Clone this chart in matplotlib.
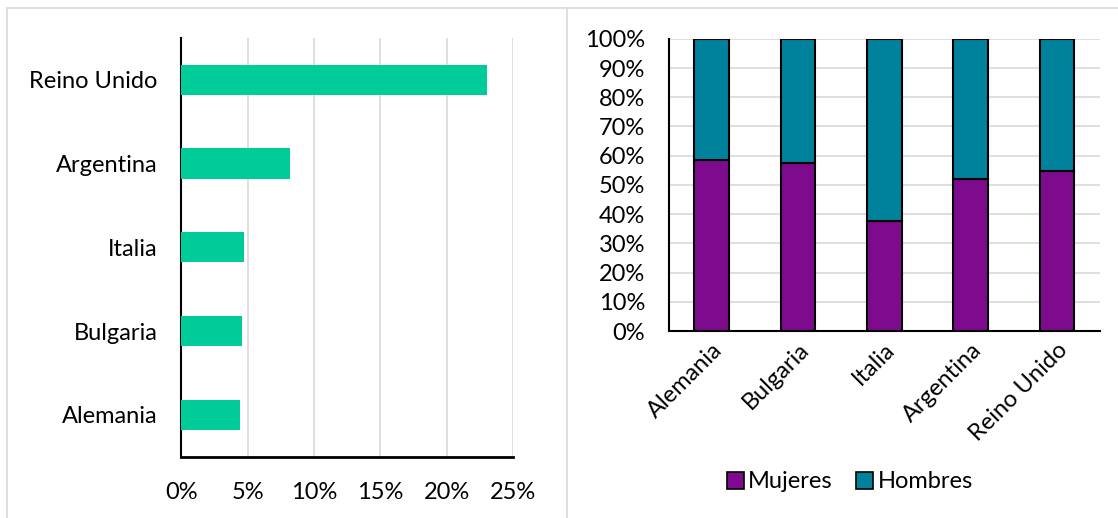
import matplotlib.pyplot as plt
from matplotlib.lines import Line2D
from matplotlib.patches import Patch
from matplotlib.ticker import PercentFormatter

plt.rcParams['font.family'] = ['Lato', 'DejaVu Sans']
plt.rcParams['font.size'] = 17

# datos
paises_izq = ["Alemania", "Bulgaria", "Italia", "Argentina", "Reino Unido"]
porcentaje = [4.45, 4.6, 4.7, 8.2, 23.0]

paises_der = ["Alemania", "Bulgaria", "Italia", "Argentina", "Reino Unido"]
mujeres = [58.6, 57.4, 37.5, 52.1, 54.8]
hombres = [100 - m for m in mujeres]

verde = "#00CC99"
morado = "#7E0A8E"
azul = "#00819C"
gris = "#D9D9D9"

fig = plt.figure(figsize=(11.18, 5.18), dpi=100)

# ---- panel izquierdo ----
ax1 = fig.add_axes([0.162, 0.118, 0.297, 0.809])
ax1.barh(range(len(paises_izq)), porcentaje, height=0.36, color=verde, zorder=3)
ax1.set_xlim(0, 25)
ax1.set_ylim(-0.5, 4.5)
ax1.set_xticks([0, 5, 10, 15, 20, 25])
ax1.xaxis.set_major_formatter(PercentFormatter(decimals=0))
ax1.set_yticks(range(len(paises_izq)))
ax1.set_yticklabels(paises_izq)
ax1.grid(axis='x', color=gris, linewidth=1.2, zorder=0)
for s in ['top', 'right']:
    ax1.spines[s].set_visible(False)
ax1.spines['left'].set_linewidth(1.5)
ax1.spines['bottom'].set_linewidth(2)
ax1.tick_params(length=0)
ax1.tick_params(axis='y', pad=17)
ax1.tick_params(axis='x', pad=18)

# ---- panel derecho ----
ax2 = fig.add_axes([0.598, 0.361, 0.386, 0.564])
x = range(len(paises_der))
ax2.bar(x, mujeres, width=0.4, color=morado, edgecolor='black', linewidth=1.5, zorder=3, label="Mujeres")
ax2.bar(x, hombres, width=0.4, bottom=mujeres, color=azul, edgecolor='black', linewidth=1.5, zorder=3, label="Hombres")
ax2.set_xlim(-0.5, 4.5)
ax2.set_ylim(0, 100)
ax2.set_yticks(range(0, 101, 10))
ax2.yaxis.set_major_formatter(PercentFormatter(decimals=0))
ax2.set_xticks(list(x))
ax2.set_xticklabels(paises_der, rotation=45, ha='right', rotation_mode='anchor')
ax2.grid(axis='y', color=gris, linewidth=1.2, zorder=0)
for s in ['top', 'right']:
    ax2.spines[s].set_visible(False)
ax2.spines['left'].set_linewidth(1.5)
ax2.spines['bottom'].set_linewidth(1.5)
ax2.tick_params(length=0)
ax2.tick_params(axis='y', pad=17)
ax2.tick_params(axis='x', pad=6)

handles = [Patch(facecolor=morado, edgecolor='black', linewidth=1.2),
           Patch(facecolor=azul, edgecolor='black', linewidth=1.2)]
fig.legend(handles, ["Mujeres", "Hombres"], loc='center', bbox_to_anchor=(850 / 1118, 1 - 482 / 518),
           ncol=2, frameon=False, handlelength=0.7, handleheight=0.7, handletextpad=0.2,
           columnspacing=1.0)

# marcos
fig.add_artist(Line2D([7 / 1118, 1], [1 - 8 / 518, 1 - 8 / 518], color=gris, linewidth=1.2))
fig.add_artist(Line2D([7 / 1118, 7 / 1118], [0, 1 - 8 / 518], color=gris, linewidth=1.2))
fig.add_artist(Line2D([567 / 1118, 567 / 1118], [0, 1 - 8 / 518], color=gris, linewidth=1.2))

fig.savefig("out.png", dpi=100)
